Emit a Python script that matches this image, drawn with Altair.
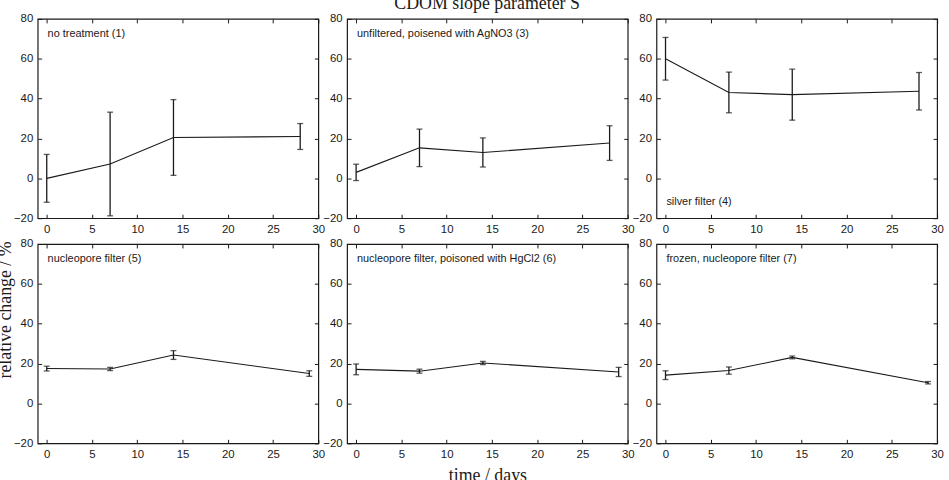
import altair as alt
import pandas as pd

# Sampling days (the lower row was last sampled on day 29)
DAYS_TOP = [0, 7, 14, 28]
DAYS_BOTTOM = [0, 7, 14, 29]

PANEL_LABELS = [
    "no treatment (1)",
    "unfiltered, poisened with AgNO3 (3)",
    "silver filter (4)",
    "nucleopore filter (5)",
    "nucleopore filter, poisoned with HgCl2 (6)",
    "frozen, nucleopore filter (7)",
]
LABEL_AT_BOTTOM = [False, False, True, False, False, False]

# Relative change of the slope parameter S (%) and its error
MEAN_1 = [0.0, 7.2, 20.5, 21.0]
ERR_1 = [12.0, 26.0, 19.0, 6.5]
MEAN_3 = [3.0, 15.3, 13.0, 17.7]
ERR_3 = [4.1, 9.4, 7.3, 8.7]
MEAN_4 = [60.0, 43.1, 42.0, 43.7]
ERR_4 = [10.7, 10.2, 12.8, 9.4]
MEAN_5 = [17.5, 17.3, 24.3, 15.0]
ERR_5 = [1.2, 0.8, 2.2, 1.4]
MEAN_6 = [17.1, 16.2, 20.3, 15.8]
ERR_6 = [2.7, 1.0, 0.8, 2.3]
MEAN_7 = [14.2, 16.5, 23.1, 10.4]
ERR_7 = [2.2, 1.8, 0.7, 0.6]

MEANS = [MEAN_1, MEAN_3, MEAN_4, MEAN_5, MEAN_6, MEAN_7]
ERRORS = [ERR_1, ERR_3, ERR_4, ERR_5, ERR_6, ERR_7]
DAYS = [DAYS_TOP] * 3 + [DAYS_BOTTOM] * 3

X_TICKS = [0, 5, 10, 15, 20, 25, 30]
Y_TICKS = [-20, 0, 20, 40, 60, 80]

W, H = 283, 201
SANS = "Liberation Sans"
SERIF = "Liberation Serif"
INK = "#1a1a1a"
TICK = 4


def panel(i):
    df = pd.DataFrame({"day": DAYS[i], "mean": MEANS[i], "err": ERRORS[i]})
    df["lo"] = df["mean"] - df["err"]
    df["hi"] = df["mean"] + df["err"]

    xs = alt.Scale(domain=[-1, 30], nice=False, zero=False)
    ys = alt.Scale(domain=[-20, 80], nice=False, zero=False)

    # inward ticks: pull each axis inside the frame by its tick length
    bottom_kw = dict(orient="bottom", values=X_TICKS, offset=-TICK, tickSize=TICK,
                     domain=False, labelPadding=5, labelFlush=False, grid=False)
    left_kw = dict(orient="left", values=Y_TICKS, offset=-TICK, tickSize=TICK,
                   domain=False, labelPadding=5, grid=False)
    if i == 4:
        bottom_kw.update(title="time / days", titleFont=SERIF, titleFontSize=18,
                         titleFontWeight="normal", titleBaseline="alphabetic",
                         titleY=42, titleColor=INK)
    else:
        bottom_kw.update(title=None)
    if i == 3:
        left_kw.update(title="relative change / %", titleFont=SERIF, titleFontSize=18,
                       titleFontWeight="normal", titleAngle=270, titleAlign="center",
                       titleBaseline="alphabetic", titleX=-31, titleY=66,
                       titleColor=INK)
    else:
        left_kw.update(title=None)

    top_axis = alt.Axis(orient="top", values=X_TICKS, offset=-TICK, tickSize=TICK,
                        domain=False, labels=False, grid=False, title=None)
    right_axis = alt.Axis(orient="right", values=Y_TICKS, offset=-TICK, tickSize=TICK,
                          domain=False, labels=False, grid=False, title=None)

    base = alt.Chart(df)
    line = base.mark_line(color=INK, strokeWidth=1.1).encode(
        x=alt.X("day:Q", scale=xs, axis=alt.Axis(**bottom_kw)),
        y=alt.Y("mean:Q", scale=ys, axis=alt.Axis(**left_kw)),
    )
    bars = base.mark_rule(color=INK, strokeWidth=1.3).encode(
        x=alt.X("day:Q", scale=xs, axis=top_axis),
        y=alt.Y("lo:Q", scale=ys, axis=right_axis),
        y2="hi:Q",
    )
    caps = base.transform_fold(["lo", "hi"], as_=["end", "v"]).mark_tick(
        orient="horizontal", size=6, thickness=1.3, color=INK
    ).encode(
        x=alt.X("day:Q", scale=xs, axis=None),
        y=alt.Y("v:Q", scale=ys, axis=None),
    )
    label = alt.Chart(pd.DataFrame({"label": [PANEL_LABELS[i]]})).mark_text(
        align="left", baseline="middle", font=SANS, fontSize=11, color=INK
    ).encode(
        text="label:N",
        x=alt.value(10),
        y=alt.value(H - 16 if LABEL_AT_BOTTOM[i] else 15),
    )
    return (
        alt.layer(line, bars, caps, label)
        .resolve_axis(x="independent", y="independent")
        .properties(width=W, height=H)
    )


chart = (
    alt.concat(
        *[panel(i) for i in range(6)],
        columns=3,
        spacing=alt.RowColnumber(row=26, column=29),
        bounds="flush",
        title=alt.TitleParams(
            "CDOM slope parameter S", font=SERIF, fontSize=18, fontWeight="normal",
            baseline="alphabetic", offset=-15, anchor="middle", dx=17, color=INK,
        ),
    )
    .properties(padding={"left": -4, "top": -7, "right": 5, "bottom": 0})
    .configure_view(stroke=INK, strokeWidth=1.2)
    .configure_axis(labelFont=SANS, labelFontSize=11.5, labelColor=INK,
                    tickColor=INK, tickWidth=1, grid=False)
)

chart.save("out.html", embed_options={"renderer": "svg", "actions": False})
